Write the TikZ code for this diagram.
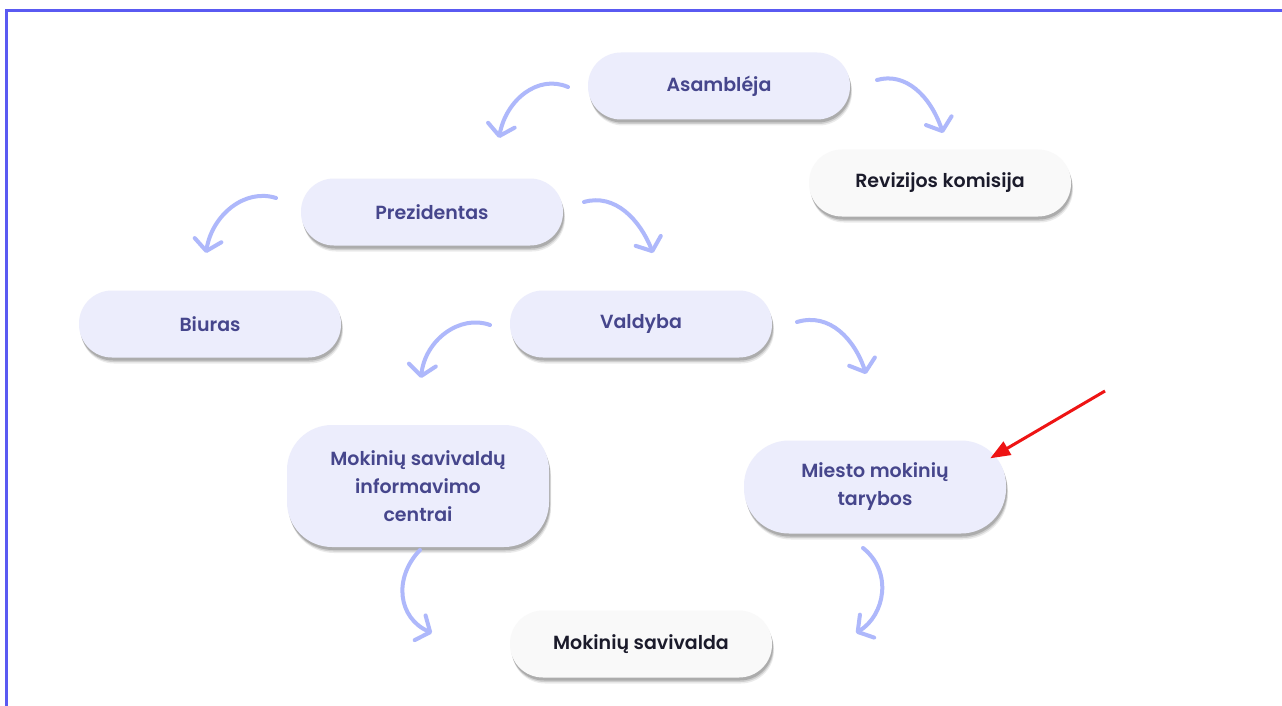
\documentclass[tikz,border=0pt]{standalone}
\usepackage{fontspec}
\setmainfont{Poppins}[BoldFont={Poppins SemiBold}]
\usetikzlibrary{arrows.meta,shadows,calc}
\definecolor{nodefill}{HTML}{ECEDFC}
\definecolor{plainfill}{HTML}{F9F9F9}
\definecolor{nodetext}{HTML}{46468C}
\definecolor{darktext}{HTML}{1B1B2B}
\definecolor{arrowblue}{HTML}{AEB8FB}
\definecolor{frameblue}{HTML}{5A5AF2}
\definecolor{redarrow}{HTML}{EE1414}
\tikzset{
  frameline/.style={draw=frameblue, line width=2.5pt},
  softshadow/.style={
    drop shadow={shadow xshift=2pt, shadow yshift=-6pt, opacity=.08, fill=black},
    drop shadow={shadow xshift=1.5pt, shadow yshift=-4.5pt, opacity=.12, fill=black},
    drop shadow={shadow xshift=1pt, shadow yshift=-3pt, opacity=.16, fill=black}},
  box/.style={fill=nodefill, rounded corners=33pt, minimum width=262pt, minimum height=67pt,
    align=center, inner sep=0pt, font=\fontsize{19}{28}\selectfont\bfseries, text=nodetext,
    softshadow},
  plainbox/.style={box, fill=plainfill, text=darktext},
  tallbox/.style={box, rounded corners=45pt},
  curly/.style={draw=arrowblue, line width=4pt, line cap=round,
    -{Straight Barb[length=11pt, width=27pt, round]}},
  pointer/.style={draw=redarrow, line width=3pt, -{Triangle[length=20pt, width=15pt]}}
}
\begin{document}
\begin{tikzpicture}[x=1pt,y=-1pt]
\useasboundingbox (0,0) rectangle (1282,706);
\fill[white] (0,0) rectangle (1282,706);
\draw[frameline] (6.5,706) -- (6.5,10.5) -- (1282,10.5);

\node[box] (asm) at (719,86) {Asambl\'eja};
\node[plainbox] (rev) at (940,183) {Revizijos komisija};
\node[box] (pre) at (432,212) {Prezidentas};
\node[box] (biu) at (210,324) {Biuras};
\node[box] (val) at (641,324) {Valdyba};
\node[tallbox, minimum height=122pt] (msic) at (418,486) {Mokinių savivaldų\\informavimo\\centrai};
\node[tallbox, minimum height=93pt] (mmt) at (875,487) {Miesto mokinių\\tarybos};
\node[plainbox] (ms) at (641,644) {Mokinių savivalda};

\coordinate (a1s) at (568,87);  \coordinate (a1e) at (499,138);
\coordinate (a2s) at (877,80);  \coordinate (a2e) at (943,133);
\coordinate (a3s) at (276,198); \coordinate (a3e) at (206,253);
\coordinate (a4s) at (584,202); \coordinate (a4e) at (653,253);
\coordinate (a5s) at (490,325); \coordinate (a5e) at (421,378);
\coordinate (a6s) at (797,322); \coordinate (a6e) at (866,374);
\coordinate (a7s) at (420,550); \coordinate (a7e) at (432,633);
\coordinate (a8s) at (863,548); \coordinate (a8e) at (856,633);
\coordinate (rs) at (1105,391);

\draw[curly] (a1s) .. controls (538,74) and (506,100) .. (a1e);
\draw[curly] (a2s) .. controls (905,72) and (930,95) .. (a2e);
\draw[curly] (a3s) .. controls (245,188) and (212,215) .. (a3e);
\draw[curly] (a4s) .. controls (615,193) and (640,220) .. (a4e);
\draw[curly] (a5s) .. controls (460,314) and (425,340) .. (a5e);
\draw[curly] (a6s) .. controls (830,312) and (855,340) .. (a6e);
\draw[curly] (a7s) .. controls (393,578) and (398,618) .. (a7e);
\draw[curly] (a8s) .. controls (893,572) and (885,615) .. (a8e);

\draw[pointer] (rs) -- ($(mmt.north east)+(-16,18)$);
\end{tikzpicture}
\end{document}
